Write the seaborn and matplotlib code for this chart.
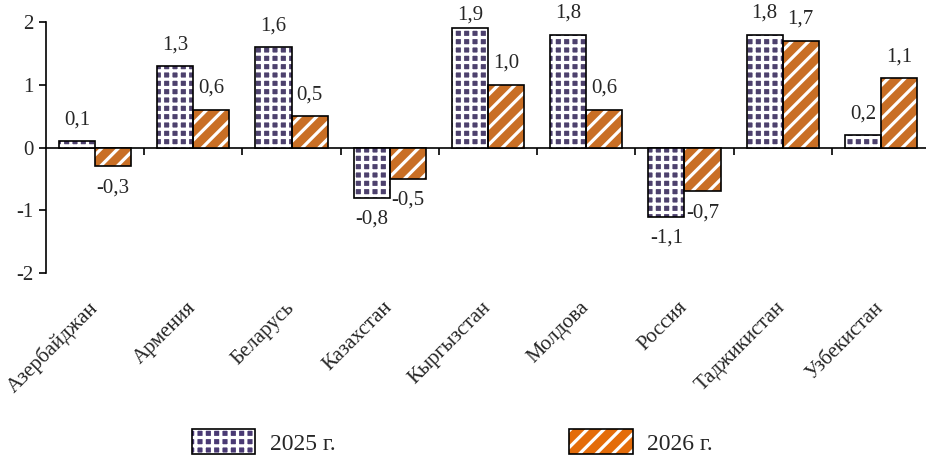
import matplotlib
matplotlib.use("Agg")
import pandas as pd
import matplotlib.pyplot as plt
import seaborn as sns
from matplotlib.patches import Rectangle, Patch

# Данные
страны = ["Азербайджан", "Армения", "Беларусь", "Казахстан", "Кыргызстан",
          "Молдова", "Россия", "Таджикистан", "Узбекистан"]
годы = ["2025 г.", "2026 г."]
знач_2025 = [0.1, 1.3, 1.6, -0.8, 1.9, 1.8, -1.1, 1.8, 0.2]
знач_2026 = [-0.3, 0.6, 0.5, -0.5, 1.0, 0.6, -0.7, 1.7, 1.1]

df = pd.DataFrame({
    "Страна": страны * 2,
    "Год": [годы[0]] * len(страны) + [годы[1]] * len(страны),
    "Значение": знач_2025 + знач_2026,
})

sns.set_style("white")
plt.rcParams["font.family"] = ["Liberation Serif", "DejaVu Serif"]
plt.rcParams["hatch.linewidth"] = 2.3

цвета = ["#4A3A74", "#E46C0A"]
штрихи = ["++", "//"]
fs = 15

fig = plt.figure(figsize=(9.26, 4.61), dpi=100)
ax = fig.add_axes([46 / 926, 1 - 273 / 461, 884 / 926, (273 - 22) / 461])

sns.barplot(data=df, x="Страна", y="Значение", hue="Год", palette=цвета,
            width=0.735, gap=0, linewidth=0, legend=False, ax=ax)

for cont, h in zip(ax.containers, штрихи):
    for p in cont.patches:
        p.set_hatch(h)
        p.set_edgecolor("white")
        p.set_linewidth(0)
        ax.add_patch(Rectangle(p.get_xy(), p.get_width(), p.get_height(),
                               fill=False, edgecolor="black", linewidth=1.2))
    labels = [f"{v:.1f}".replace(".", ",") for v in cont.datavalues]
    txts = ax.bar_label(cont, labels=labels, padding=8.5, fontsize=fs)
    # подпись у самого верха прижата к столбцу, как в исходнике
    for t, v in zip(txts, cont.datavalues):
        if v >= 1.85:
            t.xyann = (0, 3)

ax.set_xlim(-0.5, 8.5)
ax.set_ylim(-2, 2)
ax.set_yticks([-2, -1, 0, 1, 2])
ax.set_yticklabels(["-2", "-1", "0", "1", "2"])
ax.set_xlabel("")
ax.set_ylabel("")

for s in ["top", "right", "bottom"]:
    ax.spines[s].set_visible(False)
ax.spines["left"].set_color("black")
ax.spines["left"].set_linewidth(1.2)

ax.tick_params(axis="y", direction="out", length=5, width=1.2, color="black",
               labelsize=fs, left=True, pad=4)
ax.tick_params(axis="x", length=0, labelsize=fs, pad=23)
plt.setp(ax.get_xticklabels(), rotation=45, ha="right", va="center",
         rotation_mode="anchor")

# линия нуля с засечками между категориями
sec = ax.secondary_xaxis(0, transform=ax.transData)
sec.set_alignment("bottom")
sec.set_xticks([i + 0.5 for i in range(len(страны) - 1)])
sec.tick_params(axis="x", direction="out", length=5, width=1.2, color="black",
                labelbottom=False, labeltop=False)
sec.spines["bottom"].set_linewidth(1.2)
sec.spines["bottom"].set_color("black")

handles = []
for c, h in zip(цвета, штрихи):
    handles.append((Patch(facecolor=c, hatch=h, edgecolor="white", linewidth=0),
                    Patch(fill=False, edgecolor="black", linewidth=1.2)))
fig.legend(handles, годы, loc="center", bbox_to_anchor=(452 / 926, 1 - 442 / 461),
           ncol=2, frameon=False, fontsize=17, handlelength=2.7,
           handleheight=1.23, handletextpad=0.6, columnspacing=9.9)

fig.savefig("out.png", dpi=100)
